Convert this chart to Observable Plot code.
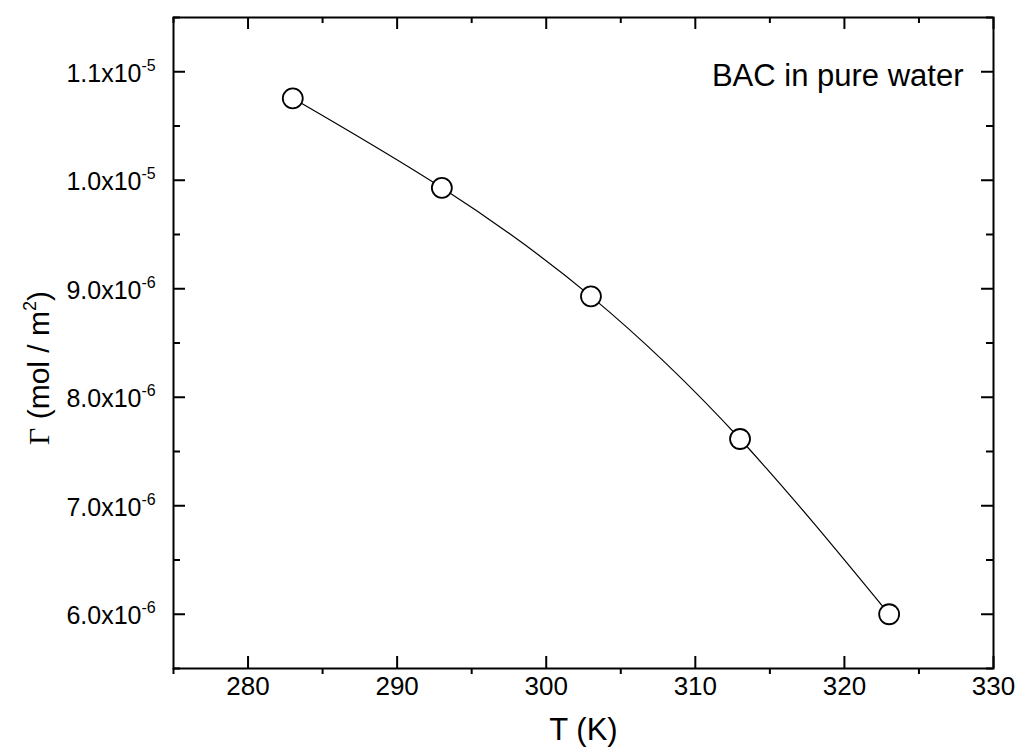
<!DOCTYPE html>
<html>
<head>
<meta charset="utf-8">
<script src="https://cdn.jsdelivr.net/npm/d3@7"></script>
<script src="https://cdn.jsdelivr.net/npm/@observablehq/plot@0.6"></script>
<style>
  html, body { margin: 0; padding: 0; background: #fff; }
</style>
</head>
<body>
<div id="chart"></div>
<script>
const temps = [283, 293, 303, 313, 323];
const gammaValues = [1.0755e-5, 9.93e-6, 8.93e-6, 7.615e-6, 6.0e-6];

const xMajor = [280, 290, 300, 310, 320, 330];
const xMinor = [275, 285, 295, 305, 315, 325];
const xTickLabels = ["280", "290", "300", "310", "320", "330"];

const yMajor = [6e-6, 7e-6, 8e-6, 9e-6, 1.0e-5, 1.1e-5];
const yMinor = [5.5e-6, 6.5e-6, 7.5e-6, 8.5e-6, 9.5e-6, 1.05e-5, 1.15e-5];
const yTickBase = ["6.0x10", "7.0x10", "8.0x10", "9.0x10", "1.0x10", "1.1x10"];
const yTickExp = ["-6", "-6", "-6", "-6", "-5", "-5"];

const xTitle = ["T (K)"];
const yTitle = ["\u0393 (mol / m2)"];
const annotation = ["BAC in pure water"];

const data = temps.map((t, i) => ({T: t, G: gammaValues[i]}));
const xTickData = xMajor.map((v, i) => ({v, label: xTickLabels[i]}));
const yTickData = yMajor.map((v, i) => ({v, base: yTickBase[i], exp: yTickExp[i]}));

const W = 1016, H = 754, ML = 173, MR = 23, MT = 17, MB = 86;
const PW = W - ML - MR, PH = H - MT - MB;
const majorLen = 12, minorLen = 7, minorOut = 6;

const chart = Plot.plot({
  width: W,
  height: H,
  marginLeft: ML,
  marginRight: MR,
  marginTop: MT,
  marginBottom: MB,
  x: {domain: [275, 330], axis: null},
  y: {domain: [5.5e-6, 1.15e-5], axis: null},
  style: {fontFamily: "'Liberation Sans', Arial, sans-serif", background: "white", color: "black"},
  marks: [
    Plot.frame({stroke: "black", strokeWidth: 2}),
    // bottom: major inward, minor outward
    Plot.tickX(xMajor, {x: d => d, insetTop: PH - majorLen, stroke: "black", strokeWidth: 2}),
    Plot.tickX(xMinor, {x: d => d, insetTop: PH, insetBottom: -minorOut, stroke: "black", strokeWidth: 2}),
    // top: inward
    Plot.tickX(xMajor, {x: d => d, insetBottom: PH - majorLen, stroke: "black", strokeWidth: 2}),
    Plot.tickX(xMinor, {x: d => d, insetBottom: PH - minorLen + 1, stroke: "black", strokeWidth: 2}),
    // left: inward
    Plot.tickY(yMajor, {y: d => d, insetRight: PW - majorLen, stroke: "black", strokeWidth: 2}),
    Plot.tickY(yMinor, {y: d => d, insetRight: PW - minorLen, stroke: "black", strokeWidth: 2}),
    // right: inward
    Plot.tickY(yMajor, {y: d => d, insetLeft: PW - majorLen, stroke: "black", strokeWidth: 2}),
    Plot.tickY(yMinor, {y: d => d, insetLeft: PW - minorLen, stroke: "black", strokeWidth: 2}),
    // tick labels
    Plot.text(xTickData, {x: "v", text: "label", frameAnchor: "bottom", dy: 26, fontSize: 26, fill: "black"}),
    Plot.text(yTickData, {y: "v", text: "base", frameAnchor: "left", dx: -32, dy: 2, textAnchor: "end", fontSize: 25, fill: "black"}),
    Plot.text(yTickData, {y: "v", text: "exp", frameAnchor: "left", dx: -32, dy: -6, textAnchor: "start", fontSize: 16, fill: "black"}),
    // titles
    Plot.text(xTitle, {frameAnchor: "bottom", dy: 71, fontSize: 31, fill: "black"}),
    Plot.text(yTitle, {frameAnchor: "left", dx: -134, dy: 25, rotate: -90, textAnchor: "middle", fontSize: 30, fill: "black"}),
    Plot.text(annotation, {frameAnchor: "top-right", dx: -30, dy: 46, textAnchor: "end", fontSize: 31, fill: "black"}),
    // data
    Plot.line(data, {x: "T", y: "G", curve: "natural", stroke: "black", strokeWidth: 1.2}),
    Plot.dot(data, {x: "T", y: "G", r: 10, fill: "white", stroke: "black", strokeWidth: 1.8})
  ]
});

// rich text for the y title: serif Gamma and superscript 2
const ns = "http://www.w3.org/2000/svg";
for (const yt of chart.querySelectorAll("text")) {
  if (yt.textContent !== yTitle[0]) continue;
  yt.textContent = "";
  const parts = [
    {t: "\u0393", font: "'Liberation Serif', 'Times New Roman', serif"},
    {t: " (mol / m"},
    {t: "2", size: 18, dy: "-0.75em"},
    {t: ")", dy: "0.45em"}
  ];
  for (const p of parts) {
    const s = document.createElementNS(ns, "tspan");
    s.textContent = p.t;
    if (p.font) s.setAttribute("font-family", p.font);
    if (p.size) s.setAttribute("font-size", p.size);
    if (p.dy) s.setAttribute("dy", p.dy);
    yt.appendChild(s);
  }
}

document.getElementById("chart").appendChild(chart);
</script>
</body>
</html>
